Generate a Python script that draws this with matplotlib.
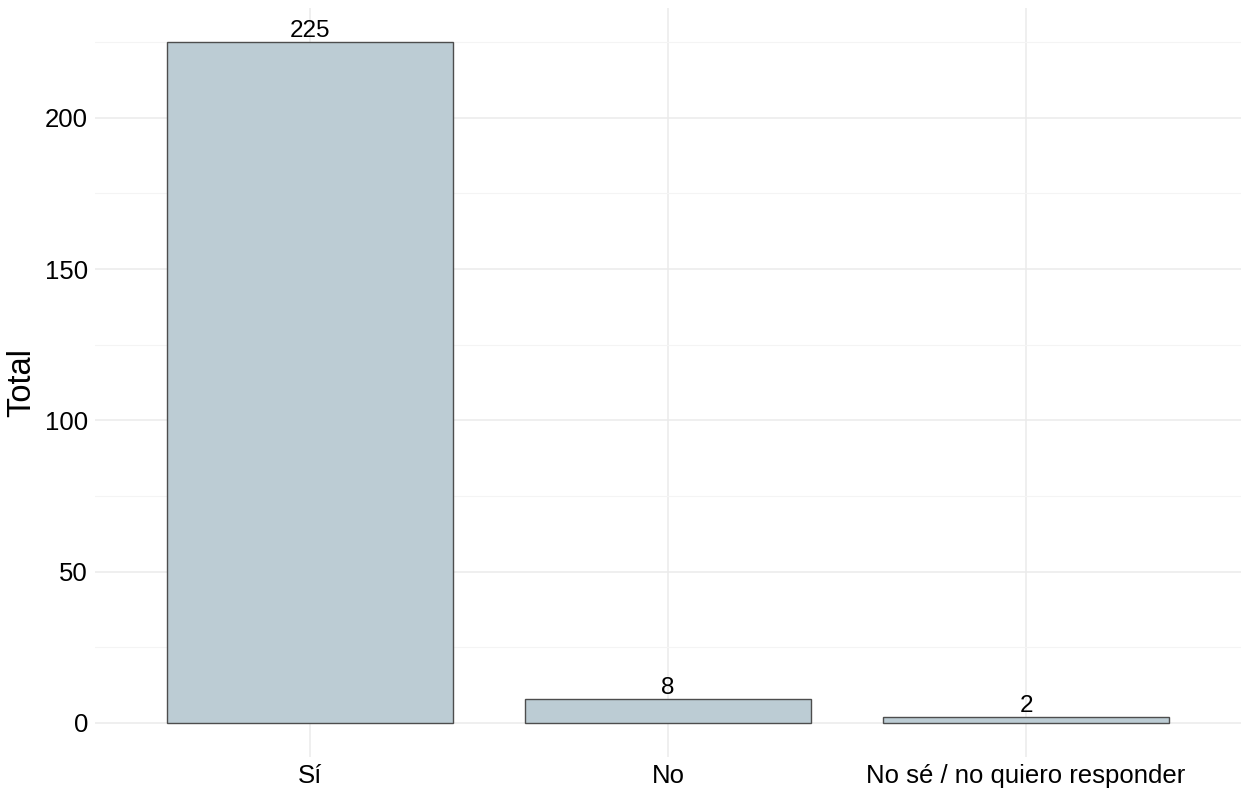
import matplotlib
matplotlib.use("Agg")
import matplotlib.pyplot as plt
import numpy as np

plt.rcParams['font.family'] = ['Liberation Sans', 'DejaVu Sans']

categorias = ["Sí", "No", "No sé / no quiero responder"]
totales = [225, 8, 2]

fig = plt.figure(figsize=(12.41, 7.92), dpi=100)
ax = fig.add_axes([95 / 1241, 35 / 792, 1146 / 1241, 749 / 792])

x = np.arange(len(categorias))
ax.bar(x, totales, width=0.8, color="#BCCCD4", edgecolor="#4D4D4D",
       linewidth=1.0, zorder=3)
for xi, v in zip(x, totales):
    ax.text(xi, v, str(v), ha="center", va="bottom", fontsize=17.5, zorder=4)

ax.set_xlim(-0.6, len(categorias) - 0.4)
ax.set_ylim(-11.25, 236.25)
ax.set_xticks(x)
ax.set_xticklabels(categorias, fontsize=18.5)
ax.set_yticks([0, 50, 100, 150, 200])
ax.set_yticks([25, 75, 125, 175, 225], minor=True)
ax.tick_params(axis="y", labelsize=18.5, length=0, pad=5)
ax.tick_params(axis="x", length=0, pad=5)
ax.tick_params(which="minor", length=0)

ax.grid(which="major", color="#EBEBEB", linewidth=1.1, zorder=0)
ax.grid(which="minor", axis="y", color="#F4F4F4", linewidth=0.8, zorder=0)
for s in ax.spines.values():
    s.set_visible(False)

ax.set_ylabel("Total", fontsize=23.5)
ax.yaxis.set_label_coords(-0.05, 0.5)

fig.savefig("out.png", dpi=100)
